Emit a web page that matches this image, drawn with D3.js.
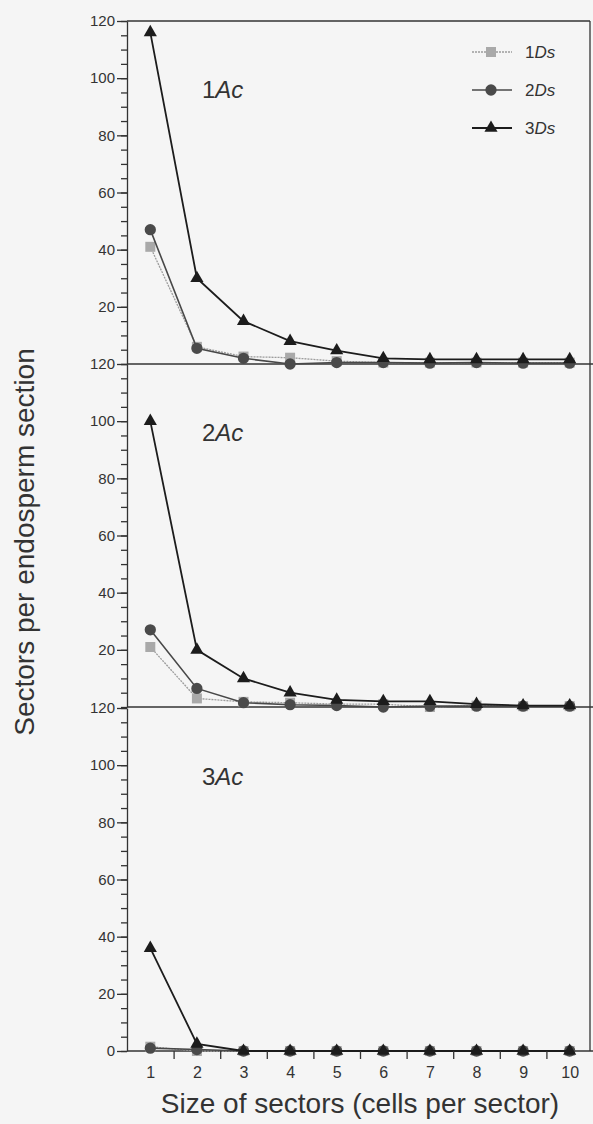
<!DOCTYPE html>
<html>
<head>
<meta charset="utf-8">
<script src="https://cdn.jsdelivr.net/npm/d3@7"></script>
<style>
  body { margin: 0; background: #f5f5f5; }
  svg { display: block; font-family: "Liberation Sans", Arial, sans-serif; }
</style>
</head>
<body>
<svg id="chart"></svg>
<script>
// 데이터: x = 섹터 크기 (cells per sector)
const sizes = [1, 2, 3, 4, 5, 6, 7, 8, 9, 10];
const panelNames = ["1", "2", "3"];   // 1Ac, 2Ac, 3Ac
const seriesNames = ["1", "2", "3"];  // 1Ds, 2Ds, 3Ds

// 1Ac
const ac1_ds1 = [41, 6, 2.6, 2.2, 1, 0.5, 0.5, 0.5, 0.5, 0.5];
const ac1_ds2 = [47, 5.5, 2, 0, 0.5, 0.5, 0.3, 0.5, 0.3, 0.3];
const ac1_ds3 = [116, 30, 15, 8, 4.7, 2, 1.6, 1.6, 1.6, 1.6];
// 2Ac
const ac2_ds1 = [21, 3, 1.8, 1.5, 1, 1, 0, 0.5, 0.3, 0.3];
const ac2_ds2 = [27, 6.5, 1.5, 0.8, 0.5, 0, 0.3, 0.3, 0.3, 0.3];
const ac2_ds3 = [100, 20, 10, 5, 2.5, 2, 2, 1, 0.5, 0.5];
// 3Ac
const ac3_ds1 = [1.5, 0, 0, 0, 0, 0, 0, 0, 0, 0];
const ac3_ds2 = [1, 0.5, 0, 0, 0, 0, 0, 0, 0, 0];
const ac3_ds3 = [36, 2.5, 0, 0, 0, 0, 0, 0, 0, 0];

const yMajor = [0, 20, 40, 60, 80, 100, 120];
const yMinor = d3.range(0, 121, 5);

const panelData = [
  [ac1_ds1, ac1_ds2, ac1_ds3],
  [ac2_ds1, ac2_ds2, ac2_ds3],
  [ac3_ds1, ac3_ds2, ac3_ds3]
];

// ── 레이아웃 상수 ─────────────────────────
const W = 593, H = 1124;
const AXIS_X = 127, RIGHT = 590;
const PANEL_TOP = [21, 364, 708], PANEL_H = 343;
const INK = "#333";
const FONT = "Liberation Sans, Arial, sans-serif";

// 시리즈별 스타일
const STYLE = [
  { stroke: "#9c9c9c", width: 1.3, dash: "2,1", fill: "#a9a9a9", sym: d3.symbolSquare, size: 100 },
  { stroke: "#484848", width: 1.6, dash: null,  fill: "#4a4a4a", sym: d3.symbolCircle, size: 100 },
  { stroke: "#1c1c1c", width: 1.8, dash: null,  fill: "#1c1c1c", sym: d3.symbolTriangle, size: 75 }
];

const svg = d3.select("#chart").attr("width", W).attr("height", H);
svg.append("rect").attr("width", W).attr("height", H).attr("fill", "#f5f5f5");

const x = d3.scaleLinear().domain([0.5, 10.5]).range([AXIS_X, 593]);

// 프레임 (위쪽, 오른쪽)
svg.append("line").attr("x1", AXIS_X).attr("x2", RIGHT).attr("y1", PANEL_TOP[0]).attr("y2", PANEL_TOP[0])
  .attr("stroke", INK).attr("stroke-width", 1.3);
svg.append("line").attr("x1", RIGHT).attr("x2", RIGHT).attr("y1", PANEL_TOP[0]).attr("y2", PANEL_TOP[2] + PANEL_H)
  .attr("stroke", INK).attr("stroke-width", 1.3);

panelData.forEach((series, p) => {
  const y = d3.scaleLinear().domain([0, 120]).range([PANEL_TOP[p] + PANEL_H, PANEL_TOP[p]]);
  const g = svg.append("g");

  // y 보조눈금
  g.append("g").attr("transform", `translate(${AXIS_X},0)`)
    .call(d3.axisLeft(y).tickValues(yMinor).tickSize(6).tickSizeOuter(0).tickFormat(""))
    .call(a => a.selectAll("line,path").attr("stroke", INK).attr("stroke-width", 1.3));
  // y 주눈금 (가장 아래 패널만 0 표시)
  const majors = p === 2 ? yMajor : yMajor.slice(1);
  g.append("g").attr("transform", `translate(${AXIS_X},0)`)
    .call(d3.axisLeft(y).tickValues(majors).tickSize(10).tickSizeOuter(0).tickPadding(2))
    .call(a => a.select(".domain").remove())
    .call(a => a.selectAll("line").attr("stroke", INK).attr("stroke-width", 1.3))
    .call(a => a.selectAll("text").attr("fill", INK).attr("font-size", 15).attr("font-family", FONT));

  // 패널 바닥선
  g.append("line").attr("x1", AXIS_X).attr("x2", W).attr("y1", y(0)).attr("y2", y(0))
    .attr("stroke", INK).attr("stroke-width", 1.5);

  // 패널 라벨
  const lbl = g.append("text").attr("x", 202).attr("y", PANEL_TOP[p] + 77)
    .attr("font-size", 24).attr("fill", INK);
  lbl.append("tspan").text(panelNames[p]);
  lbl.append("tspan").attr("font-style", "italic").text("Ac");

  // 시리즈
  series.forEach((vals, s) => {
    const st = STYLE[s];
    const pts = sizes.map((k, i) => [x(k), y(vals[i])]);
    g.append("path").attr("d", d3.line()(pts)).attr("fill", "none")
      .attr("stroke", st.stroke).attr("stroke-width", st.width)
      .attr("stroke-dasharray", st.dash);
    g.selectAll(null).data(pts).join("path")
      .attr("transform", d => `translate(${d[0]},${d[1]})`)
      .attr("d", d3.symbol(st.sym, st.size)())
      .attr("fill", st.fill);
  });
});

// x 축
const yBase = PANEL_TOP[2] + PANEL_H;
svg.append("g").attr("transform", `translate(0,${yBase})`)
  .call(d3.axisBottom(x).tickValues(d3.range(1.5, 10, 1)).tickSize(8).tickSizeOuter(0).tickFormat(""))
  .call(a => a.select(".domain").remove())
  .call(a => a.selectAll("line").attr("stroke", INK).attr("stroke-width", 1.3));
svg.append("g").attr("transform", `translate(0,${yBase})`)
  .call(d3.axisBottom(x).tickValues(sizes).tickSize(0).tickPadding(16))
  .call(a => a.select(".domain").remove())
  .call(a => a.selectAll("text").attr("fill", INK).attr("font-size", 16).attr("font-family", FONT));

// 축 제목
svg.append("text").attr("x", 360).attr("y", 1113).attr("text-anchor", "middle")
  .attr("font-size", 28).attr("fill", INK).text("Size of sectors (cells per sector)");
svg.append("text").attr("transform", "translate(34,542) rotate(-90)").attr("text-anchor", "middle")
  .attr("font-size", 28).attr("fill", INK).text("Sectors per endosperm section");

// 범례
const legend = svg.append("g");
seriesNames.forEach((n, s) => {
  const st = STYLE[s];
  const ly = 52 + s * 38;
  legend.append("line").attr("x1", 472).attr("x2", 512).attr("y1", ly).attr("y2", ly)
    .attr("stroke", st.stroke).attr("stroke-width", st.width).attr("stroke-dasharray", st.dash);
  legend.append("path").attr("transform", `translate(491,${ly})`)
    .attr("d", d3.symbol(st.sym, st.size)()).attr("fill", st.fill);
  const t = legend.append("text").attr("x", 525).attr("y", ly + 6)
    .attr("font-size", 17).attr("fill", INK);
  t.append("tspan").text(n);
  t.append("tspan").attr("font-style", "italic").text("Ds");
});
</script>
</body>
</html>
